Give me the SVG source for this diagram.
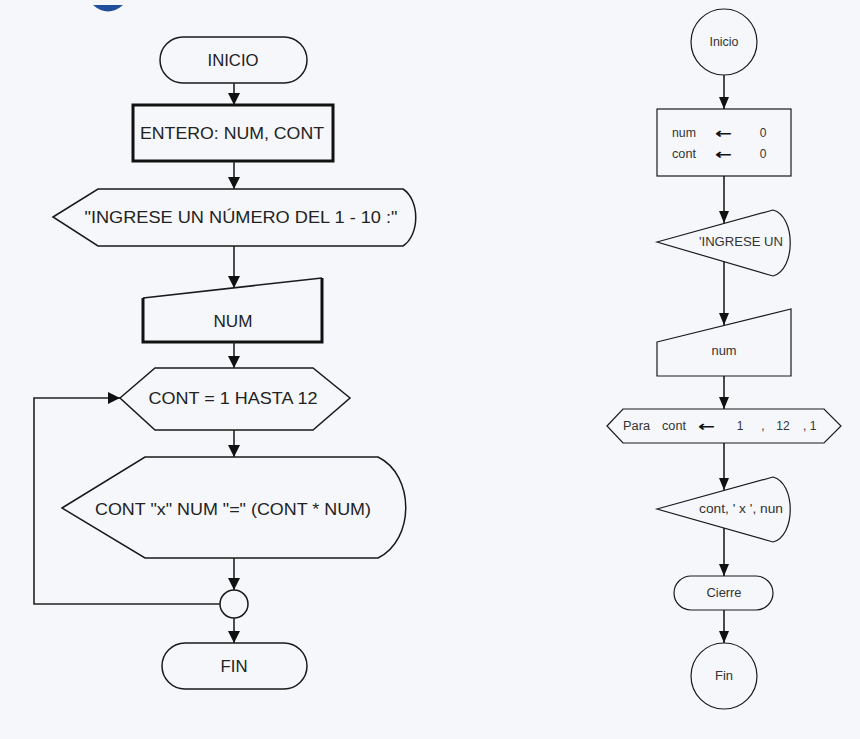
<svg xmlns="http://www.w3.org/2000/svg" width="860" height="739" viewBox="0 0 860 739">
<defs>
<marker id="ah" viewBox="0 0 12 12" refX="12" refY="6" markerWidth="12" markerHeight="12" orient="auto" markerUnits="userSpaceOnUse">
<path d="M0,0 L12,6 L0,12 z" fill="#111"/>
</marker>
<marker id="ahs" viewBox="0 0 12 10" refX="12" refY="5" markerWidth="12" markerHeight="10" orient="auto" markerUnits="userSpaceOnUse">
<path d="M0,0 L12,5 L0,10 z" fill="#111"/>
</marker>
</defs>
<style>
.bg{fill:#f5f7fb}
.sh{fill:#f5f7fb;stroke:#1a1a1a;stroke-width:1.5}
.thick{fill:#f5f7fb;stroke:#111;stroke-width:3}
.shr{fill:#f5f7fb;stroke:#1a1a1a;stroke-width:1.2}
.cl{fill:none;stroke:#222;stroke-width:1.6}
.clr{fill:none;stroke:#111;stroke-width:1.5}
.tl{font-family:"Liberation Sans",Arial,sans-serif;font-size:17px;fill:#222;text-anchor:middle;dominant-baseline:central}
.tr{font-family:"Liberation Sans",Arial,sans-serif;font-size:12px;fill:#333;dominant-baseline:central}
.ar{font-family:"DejaVu Sans",sans-serif;font-size:14px;font-weight:bold;fill:#111;dominant-baseline:central}
</style>
<rect class="bg" x="0" y="0" width="860" height="739"/>
<path d="M93,5 Q108,18 123,5 Z" fill="#1f4f9a"/>

<!-- LEFT FLOWCHART -->
<g id="l-inicio">
<rect class="sh" x="160" y="37" width="147" height="46" rx="23" ry="23"/>
<text class="tl" x="233" y="60" textLength="51" lengthAdjust="spacingAndGlyphs">INICIO</text>
</g>
<g id="l-entero">
<rect class="thick" x="133" y="105" width="200" height="56"/>
<text class="tl" x="232" y="133" textLength="184" lengthAdjust="spacingAndGlyphs">ENTERO: NUM, CONT</text>
</g>
<g id="l-ingrese">
<path class="sh" d="M53,217 L98,189 L403,189 C420,200 420,235 403,246 L98,246 Z"/>
<text class="tl" x="241" y="217" textLength="313" lengthAdjust="spacingAndGlyphs">"INGRESE UN NÚMERO DEL 1 - 10 :"</text>
</g>
<g id="l-num">
<path class="sh" d="M143,298 L322,278"/>
<path d="M143,298 L143,342 L322,342 L322,278" fill="none" stroke="#111" stroke-width="3"/>
<text class="tl" x="233" y="321" textLength="39" lengthAdjust="spacingAndGlyphs">NUM</text>
</g>
<g id="l-for">
<path class="sh" d="M120,398 L155,368 L313,368 L350,398 L313,430 L155,430 Z"/>
<text class="tl" x="233" y="398" textLength="169" lengthAdjust="spacingAndGlyphs">CONT = 1 HASTA 12</text>
</g>
<g id="l-print">
<path class="sh" d="M62,508 L145,457 L378,457 C415,475 415,540 378,558 L145,558 Z"/>
<text class="tl" x="233" y="509" textLength="276" lengthAdjust="spacingAndGlyphs">CONT "x" NUM "=" (CONT * NUM)</text>
</g>
<g id="l-conn">
<circle class="sh" cx="234" cy="604" r="14"/>
</g>
<g id="l-fin">
<rect class="sh" x="162" y="643" width="145" height="46" rx="23" ry="23"/>
<text class="tl" x="234" y="666" textLength="27" lengthAdjust="spacingAndGlyphs">FIN</text>
</g>

<g id="l-connectors">
<line class="cl" x1="234" y1="83" x2="234" y2="105" marker-end="url(#ah)"/>
<line class="cl" x1="234" y1="161" x2="234" y2="189" marker-end="url(#ah)"/>
<line class="cl" x1="234" y1="246" x2="234" y2="288" marker-end="url(#ah)"/>
<line class="cl" x1="234" y1="342" x2="234" y2="368" marker-end="url(#ah)"/>
<line class="cl" x1="234" y1="430" x2="234" y2="457" marker-end="url(#ah)"/>
<line class="cl" x1="234" y1="558" x2="234" y2="590" marker-end="url(#ah)"/>
<line class="cl" x1="234" y1="618" x2="234" y2="643" marker-end="url(#ah)"/>
<polyline class="cl" points="220,604 34,604 34,398 120,398" marker-end="url(#ah)"/>
</g>

<!-- RIGHT FLOWCHART -->
<g id="r-inicio">
<circle class="shr" cx="724" cy="42" r="33"/>
<text class="tr" x="724" y="42" text-anchor="middle" textLength="29" lengthAdjust="spacingAndGlyphs">Inicio</text>
</g>
<g id="r-assign">
<rect class="shr" x="657" y="109" width="134" height="67"/>
<text class="tr" x="672" y="133" textLength="24" lengthAdjust="spacingAndGlyphs">num</text>
<text class="ar" x="715" y="133" textLength="17" lengthAdjust="spacingAndGlyphs">←</text>
<text class="tr" x="763" y="133" text-anchor="middle">0</text>
<text class="tr" x="672" y="154" textLength="24" lengthAdjust="spacingAndGlyphs">cont</text>
<text class="ar" x="715" y="154" textLength="17" lengthAdjust="spacingAndGlyphs">←</text>
<text class="tr" x="763" y="154" text-anchor="middle">0</text>
</g>
<g id="r-ingrese">
<path class="shr" d="M657,242 L773,210 C796,216 796,270 773,276 Z"/>
<text class="tr" x="699" y="242" textLength="84" lengthAdjust="spacingAndGlyphs">'INGRESE UN</text>
</g>
<g id="r-num">
<path class="shr" d="M657,342 L791,309 L791,376 L657,376 Z"/>
<text class="tr" x="724" y="351" text-anchor="middle" textLength="25" lengthAdjust="spacingAndGlyphs">num</text>
</g>
<g id="r-para">
<path class="shr" d="M607,426 L623,409 L824,409 L841,426 L824,443 L623,443 Z"/>
<text class="tr" x="623" y="426" textLength="27" lengthAdjust="spacingAndGlyphs">Para</text>
<text class="tr" x="662" y="426" textLength="24" lengthAdjust="spacingAndGlyphs">cont</text>
<text class="ar" x="698" y="426" textLength="17" lengthAdjust="spacingAndGlyphs">←</text>
<text class="tr" x="740" y="426" text-anchor="middle">1</text>
<text class="tr" x="763" y="426" text-anchor="middle">,</text>
<text class="tr" x="783" y="426" text-anchor="middle">12</text>
<text class="tr" x="803" y="426">, 1</text>
</g>
<g id="r-print">
<path class="shr" d="M657,509 L773,477 C796,483 796,536 773,542 Z"/>
<text class="tr" x="699" y="509" textLength="84" lengthAdjust="spacingAndGlyphs">cont, ' x ', nun</text>
</g>
<g id="r-cierre">
<rect class="shr" x="674" y="576" width="99" height="34" rx="17" ry="17"/>
<text class="tr" x="724" y="593" text-anchor="middle" textLength="35" lengthAdjust="spacingAndGlyphs">Cierre</text>
</g>
<g id="r-fin">
<circle class="shr" cx="724" cy="676" r="33"/>
<text class="tr" x="724" y="676" text-anchor="middle" textLength="18" lengthAdjust="spacingAndGlyphs">Fin</text>
</g>

<g id="r-connectors">
<line class="clr" x1="724" y1="75" x2="724" y2="109" marker-end="url(#ahs)"/>
<line class="clr" x1="724" y1="176" x2="724" y2="223" marker-end="url(#ahs)"/>
<line class="clr" x1="724" y1="262" x2="724" y2="325" marker-end="url(#ahs)"/>
<line class="clr" x1="724" y1="376" x2="724" y2="409" marker-end="url(#ahs)"/>
<line class="clr" x1="724" y1="443" x2="724" y2="490" marker-end="url(#ahs)"/>
<line class="clr" x1="724" y1="528" x2="724" y2="576" marker-end="url(#ahs)"/>
<line class="clr" x1="724" y1="610" x2="724" y2="643" marker-end="url(#ahs)"/>
</g>
</svg>
